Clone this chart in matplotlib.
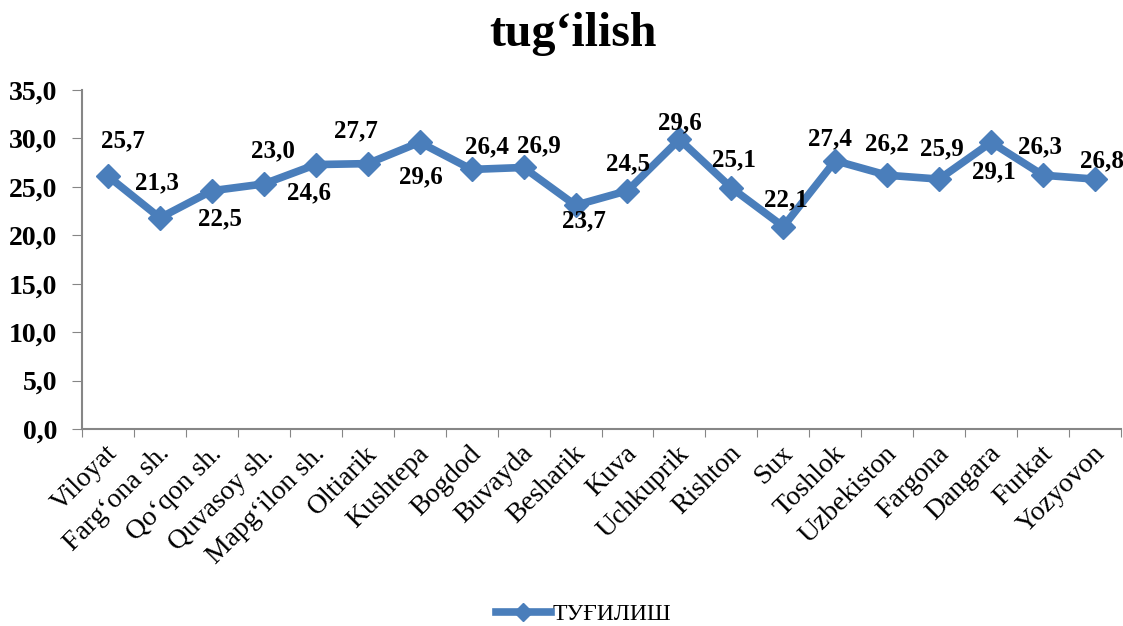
import matplotlib
matplotlib.use("Agg")
import matplotlib.pyplot as plt
import matplotlib.transforms as mtransforms
import numpy as np

categories = ["Viloyat", "Farg‘ona sh.", "Qo‘qon sh.", "Quvasoy sh.", "Mapg‘ilon sh.",
              "Oltiarik", "Kushtepa", "Bogdod", "Buvayda", "Besharik", "Kuva",
              "Uchkuprik", "Rishton", "Sux", "Toshlok", "Uzbekiston", "Fargona",
              "Dangara", "Furkat", "Yozyovon"]
values = [26.1, 21.8, 24.6, 25.3, 27.3, 27.4, 29.6, 26.8, 27.0, 23.1, 24.6,
          29.9, 24.9, 20.9, 27.7, 26.2, 25.8, 29.6, 26.2, 25.8]
label_texts = ["25,7", "21,3", "22,5", "23,0", "24,6", "27,7", "29,6", "26,4", "26,9",
               "23,7", "24,5", "29,6", "25,1", "22,1", "27,4", "26,2", "25,9", "29,1",
               "26,3", "26,8"]
series_name = "ТУҒИЛИШ"
title = "tug‘ilish"
yticks = [0, 5, 10, 15, 20, 25, 30, 35]

# label offsets in pixels (dx, dy) relative to marker
label_offsets = [(15, 35), (-3, 35), (8, -28), (9, 33), (-7, -28), (-12, 33), (1, -35),
                 (15, 23), (15, 22), (8, -16), (1, 27), (0, 17), (3, 28), (3, 27),
                 (-5, 22), (0, 31), (3, 30), (3, -30), (-3, 28), (7, 18)]

serif = ["Liberation Serif", "DejaVu Serif"]
plt.rcParams['font.family'] = serif
color = "#4A7EBB"

fig = plt.figure(figsize=(11.23, 6.26), dpi=100)
ax = fig.add_axes([82/1123, 1 - 429/626, (1121 - 82)/1123, (429 - 90)/626])

x = np.arange(len(categories))
line, = ax.plot(x, values, color=color, lw=5.5, marker="D", markersize=12,
                markerfacecolor=color, markeredgecolor=color, label=series_name,
                solid_joinstyle="round")

ax.set_xlim(-0.5, len(categories) - 0.5)
ax.set_ylim(0, 35)
ax.set_yticks(yticks)
ax.set_yticklabels([f"{v:.1f}".replace(".", ",") for v in yticks],
                   fontsize=20, fontweight="bold")
ax.set_xticks(np.arange(-0.5, len(categories)), minor=False)
ax.set_xticklabels([])
ax.set_xticks(x, minor=True)
ax.set_xticklabels(categories, minor=True, rotation=45, ha="right", va="center",
                   rotation_mode="anchor", fontsize=20)
ax.tick_params(axis="x", which="minor", length=0, pad=15)
ax.tick_params(axis="x", which="major", length=6, color="#868686", direction="out")
ax.tick_params(axis="y", length=7, color="#868686", direction="out", pad=11)

shift = mtransforms.ScaledTranslation(6/100, 0, fig.dpi_scale_trans)
for lbl in ax.get_xticklabels(minor=True):
    lbl.set_transform(lbl.get_transform() + shift)

for s in ["top", "right"]:
    ax.spines[s].set_visible(False)
for s in ["left", "bottom"]:
    ax.spines[s].set_color("#868686")
    ax.spines[s].set_linewidth(1.5)

for xi, v, t, (dx, dy) in zip(x, values, label_texts, label_offsets):
    ax.annotate(t, (xi, v), xytext=(dx * 0.72, dy * 0.72), textcoords="offset points",
                ha="center", va="center", fontsize=18, fontweight="bold")

fig.text(0.51, 0.945, title, ha="center", va="center", fontsize=34.5, fontweight="bold")

leg = fig.legend(handles=[line], loc="center", bbox_to_anchor=(0.520, 1 - 614/626),
                 frameon=False, fontsize=17, handlelength=2.3, handletextpad=0.1,
                 markerscale=0.8, borderpad=0.1)

fig.savefig("out.png", dpi=100)
